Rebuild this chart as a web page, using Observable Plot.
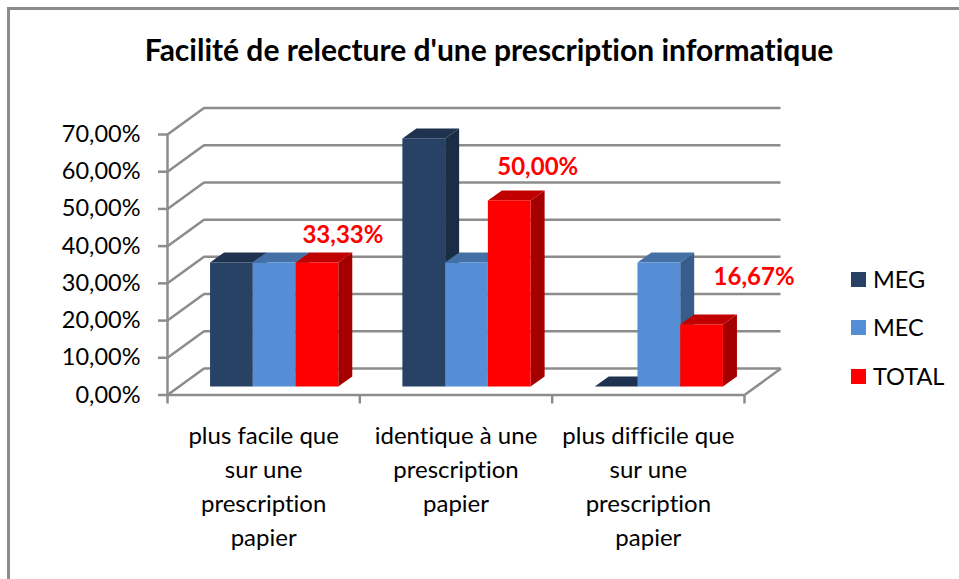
<!DOCTYPE html>
<html>
<head>
<meta charset="utf-8">
<script src="https://cdn.jsdelivr.net/npm/d3@7"></script>
<script src="https://cdn.jsdelivr.net/npm/@observablehq/plot@0.6"></script>
<style>
  html, body { margin: 0; padding: 0; background: #fff; }
  #wrap { position: relative; width: 959px; height: 579px; overflow: hidden; font-family: Lato, "Open Sans", sans-serif; font-variant-ligatures: none; }
  svg text { font-variant-ligatures: none; }
  #frame { position: absolute; left: 7px; top: 7px; width: 1000px; height: 1000px; border-left: 3px solid #8c8c8c; border-top: 3px solid #8c8c8c; box-sizing: border-box; }
  #title { position: absolute; left: 489px; top: 31px; transform: translateX(-50%); white-space: nowrap; font-weight: bold; font-size: 30px; line-height: 36px; color: #000; }
  #chart { position: absolute; left: 0; top: 0; }
  .leg { position: absolute; left: 851px; display: flex; align-items: center; font-size: 23.5px; color: #000; height: 30px; }
  .leg span.sw { display: inline-block; width: 15px; height: 15px; margin-right: 7px; }
</style>
</head>
<body>
<div id="wrap">
  <div id="frame"></div>
  <div id="chart"></div>
  <div id="title">Facilité de relecture d'une prescription informatique</div>
  <div id="legend"></div>
</div>
<script>
// ---- data ----
const categories = [
  "plus facile que\nsur une\nprescription\npapier",
  "identique à une\nprescription\npapier",
  "plus difficile que\nsur une\nprescription\npapier"
];
const seriesNames = ["MEG", "MEC", "TOTAL"];
const MEG = [0.3333, 0.6667, 0];
const MEC = [0.3333, 0.3333, 0.3333];
const TOTAL = [0.3333, 0.5, 0.1667];
const yTicks = [0, 0.1, 0.2, 0.3, 0.4, 0.5, 0.6, 0.7];

// ---- styles ----
const frontColors = ["#284266", "#558ed5", "#ff0000"];
const topColors = ["#1f3350", "#4470a6", "#c00000"];
const sideColors = ["#1b2c45", "#385d8a", "#a50000"];
const gridColor = "#8c8c8c";

const seriesValues = [MEG, MEC, TOTAL];

// geometry helpers (pixel sizes converted to data units)
const W = 959, H = 579;
const mL = 167, mR = 215, mT = 134, mB = 184.5;
const UX = 3 / (W - mL - mR);
const UY = 0.7 / (H - mT - mB);
const WX = 36.5 * UX, WY = 26.5 * UY;      // wall depth
const BX = 14 * UX, BY = 10 * UY;          // bar depth
const barDx = 11, barDy = -8;              // bar front plane offset
const bw = 1 / 4.5;                        // bar width (gap width 150%)

const rows = [];
seriesValues.forEach((vals, s) => {
  vals.forEach((v, g) => {
    rows.push({s, g, v, x1: g + (0.75 + s) * bw, x2: g + (1.75 + s) * bw, id: s + "-" + g});
  });
});

const fmt = d => (d * 100).toFixed(2).replace(".", ",") + "%";

const barMarks = [];
seriesNames.forEach((name, s) => {
  const r = rows.filter(d => d.s === s);
  const side = r.flatMap(d => [
    {id: d.id, x: d.x2, y1: 0, y2: d.v},
    {id: d.id, x: d.x2 + BX, y1: BY, y2: d.v + BY}
  ]);
  const top = r.flatMap(d => [
    {id: d.id, y: d.v, x1: d.x1, x2: d.x2},
    {id: d.id, y: d.v + BY, x1: d.x1 + BX, x2: d.x2 + BX}
  ]);
  barMarks.push(
    Plot.areaY(side, {x: "x", y1: "y1", y2: "y2", z: "id", fill: sideColors[s], dx: barDx, dy: barDy}),
    Plot.areaX(top, {y: "y", x1: "x1", x2: "x2", z: "id", fill: topColors[s], dx: barDx, dy: barDy}),
    Plot.rect(r, {x1: "x1", x2: "x2", y1: 0, y2: "v", fill: frontColors[s], dx: barDx, dy: barDy})
  );
});

const totalCenter = g => g + 3.25 * bw;
const labelOffsets = [[36.5, -35.5], [39, -41.5], [63, -55.5]];
const labelMarks = TOTAL.map((v, g) =>
  Plot.text([v], {x: () => totalCenter(g), y: d => d, text: fmt,
    dx: labelOffsets[g][0], dy: labelOffsets[g][1],
    fill: "#ff0000", fontWeight: "bold", fontSize: 24})
);

const chart = Plot.plot({
  width: W, height: H,
  marginLeft: mL, marginRight: mR, marginTop: mT, marginBottom: mB,
  x: {type: "linear", domain: [0, 3], axis: null},
  y: {type: "linear", domain: [0, 0.7], axis: null},
  style: {fontFamily: "Lato, 'Open Sans', sans-serif", background: "transparent", overflow: "visible"},
  marks: [
    // back wall gridlines
    Plot.ruleY(yTicks, {y: d => d + WY, x1: WX, x2: 3 + WX, stroke: gridColor, strokeWidth: 2.5}),
    // side wall diagonals
    Plot.link(yTicks, {x1: 0, y1: d => d, x2: WX, y2: d => d + WY, stroke: gridColor, strokeWidth: 2.5}),
    // floor
    Plot.ruleY([0], {x1: 0, x2: 3, stroke: gridColor, strokeWidth: 2.5}),
    Plot.link([0], {x1: 3, y1: 0, x2: 3 + WX, y2: WY, stroke: gridColor, strokeWidth: 2.5}),
    // y axis
    Plot.ruleX([0], {y1: 0, y2: 0.7, stroke: gridColor, strokeWidth: 2.5}),
    Plot.ruleY(yTicks, {y: d => d, x1: -9 * UX, x2: 0, stroke: gridColor, strokeWidth: 2.5}),
    Plot.ruleX([0, 1, 2, 3], {x: d => d, y1: 0, y2: -9 * UY, stroke: gridColor, strokeWidth: 2.5}),
    // bars
    ...barMarks,
    // y tick labels
    Plot.text(yTicks, {x: 0, y: d => d, text: fmt, textAnchor: "end", dx: -27, fontSize: 23.5, fill: "#000"}),
    // category labels
    Plot.text(categories, {x: (d, i) => i + 0.5, y: 0, text: d => d, lineAnchor: "top", dy: 24.5, lineHeight: 1.417, fontSize: 24, fill: "#000"}),
    // data labels
    ...labelMarks
  ]
});
document.getElementById("chart").appendChild(chart);

// legend
const legend = document.getElementById("legend");
const legTops = [279, 327, 376];
seriesNames.forEach((name, s) => {
  const div = document.createElement("div");
  div.className = "leg";
  div.style.top = (legTops[s] - 15) + "px";
  div.innerHTML = `<span class="sw" style="background:${frontColors[s]}"></span><span>${name}</span>`;
  legend.appendChild(div);
});
</script>
</body>
</html>
